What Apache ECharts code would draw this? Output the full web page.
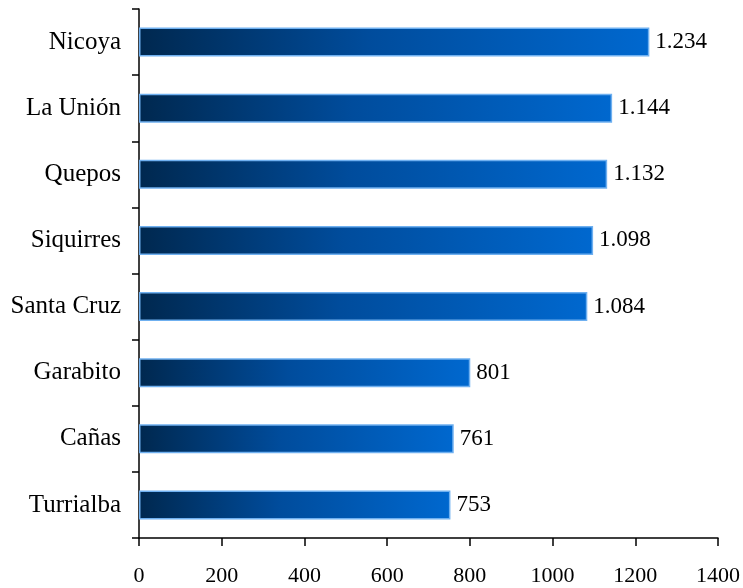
<!DOCTYPE html>
<html>
<head>
<meta charset="utf-8">
<script src="https://cdn.jsdelivr.net/npm/echarts@6/dist/echarts.min.js"></script>
<style>
html,body{margin:0;padding:0;background:#fff;}
#chart{width:743px;height:588px;}
</style>
</head>
<body>
<div id="chart"></div>
<script>
const categories = ["Nicoya", "La Unión", "Quepos", "Siquirres", "Santa Cruz", "Garabito", "Cañas", "Turrialba"];
const values = [1234, 1144, 1132, 1098, 1084, 801, 761, 753];
const xTicks = [0, 200, 400, 600, 800, 1000, 1200, 1400];

function fmtThousands(v) {
  return String(v).replace(/\B(?=(\d{3})+(?!\d))/g, '.');
}

const fontFam = "'Liberation Serif', 'Times New Roman', serif";
const chart = echarts.init(document.getElementById('chart'), null, {renderer: 'canvas'});
chart.setOption({
  animation: false,
  backgroundColor: '#ffffff',
  grid: {left: 139, right: 24, top: 9, bottom: 50, containLabel: false},
  xAxis: {
    type: 'value',
    min: xTicks[0],
    max: xTicks[xTicks.length - 1],
    interval: 200,
    splitLine: {show: false},
    axisLine: {show: true, lineStyle: {color: '#000', width: 1.5}},
    axisTick: {show: true, inside: false, length: 8, lineStyle: {color: '#000', width: 1.5}},
    axisLabel: {color: '#000', fontFamily: fontFam, fontSize: 22, margin: 27, formatter: v => String(v)}
  },
  yAxis: {
    type: 'category',
    data: categories,
    inverse: true,
    axisLine: {show: true, lineStyle: {color: '#000', width: 1.5}},
    axisTick: {show: true, inside: false, length: 7, alignWithLabel: false, lineStyle: {color: '#000', width: 1.5}},
    axisLabel: {color: '#000', fontFamily: fontFam, fontSize: 25, margin: 18}
  },
  series: [{
    type: 'bar',
    data: values,
    barWidth: 29,
    itemStyle: {
      color: new echarts.graphic.LinearGradient(0, 0, 1, 0, [
        {offset: 0, color: '#00284f'},
        {offset: 0.45, color: '#004c9c'},
        {offset: 1, color: '#0068cf'}
      ]),
      borderColor: '#6fb0f0',
      borderWidth: 1.5
    },
    label: {
      show: true,
      position: 'right',
      distance: 6,
      color: '#000',
      fontFamily: fontFam,
      fontSize: 23,
      formatter: p => fmtThousands(p.value)
    }
  }]
});
</script>
</body>
</html>
